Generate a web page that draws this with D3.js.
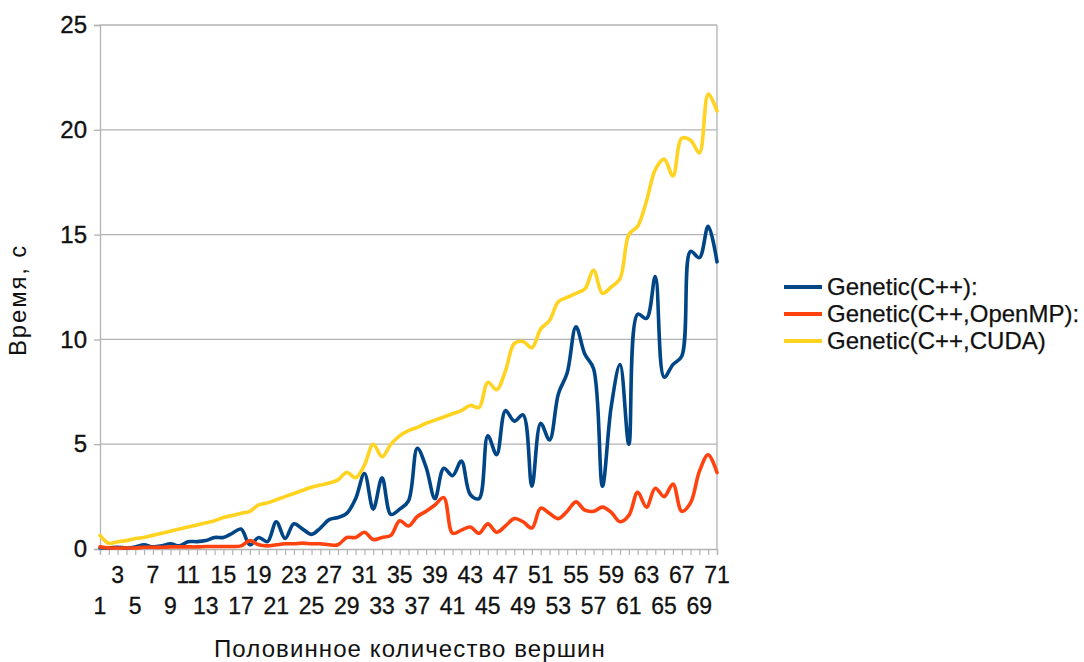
<!DOCTYPE html>
<html>
<head>
<meta charset="utf-8">
<script src="https://cdn.jsdelivr.net/npm/d3@7"></script>
<style>
  html, body { margin: 0; padding: 0; background: #fff; }
  svg { display: block; font-family: "Liberation Sans", Arial, sans-serif; }
</style>
</head>
<body>
<svg id="chart" width="1084" height="662"></svg>
<script>
// Half the number of vertices: 1..71
const categories = d3.range(1, 72);

// Run time in seconds, one value per category
const genericCpp = [
  0.05, 0.05, 0.08, 0.05, 0.1, 0.2, 0.1, 0.15, 0.25, 0.15,
  0.35, 0.35, 0.4, 0.55, 0.55, 0.75, 0.95, 0.2, 0.55, 0.35,
  1.3, 0.5, 1.2, 0.95, 0.7, 1.0, 1.4, 1.5, 1.7, 2.4,
  3.6, 1.9, 3.4, 1.65, 1.9, 2.3, 4.8, 3.9, 2.4, 3.85,
  3.5, 4.2, 2.6, 2.4, 5.4, 4.5, 6.6, 6.1, 6.4, 3.0,
  6.0, 5.2, 7.4, 8.4, 10.6, 9.3, 8.6, 3.0, 6.8, 8.8,
  5.0, 11.2, 11.0, 13.0, 8.2, 8.8, 9.2, 14.2, 13.9, 15.4,
  13.7
];
const genericOpenMP = [
  0.1, 0.05, 0.05, 0.05, 0.05, 0.08, 0.08, 0.08, 0.1, 0.1,
  0.1, 0.1, 0.12, 0.12, 0.12, 0.12, 0.15, 0.4, 0.2, 0.15,
  0.2, 0.25, 0.25, 0.28, 0.25, 0.25, 0.2, 0.2, 0.55, 0.55,
  0.8, 0.45, 0.55, 0.65, 1.35, 1.1, 1.55, 1.8, 2.1, 2.45,
  0.75, 0.9, 1.05, 0.75, 1.2, 0.8, 1.1, 1.45, 1.3, 1.0,
  1.95, 1.7, 1.45, 1.8, 2.25, 1.85, 1.8, 2.0, 1.75, 1.3,
  1.6, 2.7, 2.0, 2.9, 2.5, 3.1, 1.8, 2.2, 3.7, 4.5,
  3.65
];
const genericCuda = [
  0.65, 0.27, 0.35, 0.4, 0.5, 0.55, 0.65, 0.75, 0.85, 0.95,
  1.05, 1.15, 1.25, 1.35, 1.5, 1.6, 1.7, 1.8, 2.1, 2.2,
  2.35, 2.5, 2.65, 2.8, 2.95, 3.05, 3.15, 3.3, 3.65, 3.4,
  4.0, 5.0, 4.4, 5.0, 5.4, 5.65, 5.8, 6.0, 6.15, 6.3,
  6.45, 6.6, 6.85, 6.75, 7.95, 7.6, 8.5, 9.8, 9.9, 9.6,
  10.5, 10.9, 11.8, 12.0, 12.2, 12.4, 13.3, 12.2, 12.5, 12.9,
  15.0, 15.4, 16.6, 18.1, 18.6, 17.8, 19.6, 19.5, 18.9, 21.7,
  20.9
];

const seriesNames = ["Genetic(C++):", "Genetic(C++,OpenMP):", "Genetic(C++,CUDA)"];
const seriesColors = ["#004586", "#ff420e", "#ffd320"];
const yTicks = [0, 5, 10, 15, 20, 25];
const xTickLabels = categories.filter(c => c % 2 === 1);

const xTitle = "Половинное количество вершин";
const yTitle = "Время, с";

const svg = d3.select("#chart");
const plot = { left: 100, right: 717, top: 25, bottom: 549 };
const gridColor = "#b3b3b3";
const textColor = "#111";

const x = d3.scalePoint().domain(categories).range([plot.left, plot.right]);
const y = d3.scaleLinear().domain([0, 25]).range([plot.bottom, plot.top]);

// Horizontal grid lines
svg.append("g")
  .selectAll("line")
  .data(yTicks.filter(t => t > 0))
  .join("line")
  .attr("x1", plot.left).attr("x2", plot.right)
  .attr("y1", d => y(d)).attr("y2", d => y(d))
  .attr("stroke", gridColor).attr("stroke-width", 1.3);

// Right border of the plot area
svg.append("line")
  .attr("x1", plot.right).attr("x2", plot.right)
  .attr("y1", plot.top).attr("y2", plot.bottom)
  .attr("stroke", gridColor).attr("stroke-width", 1.3);

// Y axis
const yAxis = svg.append("g")
  .attr("transform", `translate(${plot.left},0)`)
  .call(d3.axisLeft(y).tickValues(yTicks).tickSize(6).tickPadding(7));
yAxis.select(".domain").attr("stroke", gridColor).attr("stroke-width", 1.3);
yAxis.selectAll(".tick line").attr("stroke", gridColor).attr("stroke-width", 1.3);
yAxis.selectAll(".tick text")
  .attr("font-size", 24).attr("fill", textColor)
  .attr("stroke", textColor).attr("stroke-width", 0.35)
  .attr("font-family", "Liberation Sans, Arial, sans-serif");

// X axis: a tick per category, labels on odd values in two staggered rows
const xAxis = svg.append("g")
  .attr("transform", `translate(0,${plot.bottom})`)
  .call(d3.axisBottom(x).tickSize(6).tickFormat(""));
xAxis.select(".domain").attr("stroke", gridColor).attr("stroke-width", 1.3);
xAxis.selectAll(".tick line").attr("stroke", gridColor).attr("stroke-width", 1.2);

svg.append("g")
  .selectAll("text")
  .data(xTickLabels)
  .join("text")
  .attr("x", d => x(d))
  .attr("y", d => ((d - 1) / 2) % 2 === 1 ? plot.bottom + 34 : plot.bottom + 65)
  .attr("text-anchor", "middle")
  .attr("font-size", 23)
  .attr("fill", textColor)
  .attr("stroke", textColor).attr("stroke-width", 0.3)
  .text(d => d);

// Axis titles
svg.append("text")
  .attr("x", 410).attr("y", 657)
  .attr("text-anchor", "middle")
  .attr("font-size", 24).attr("fill", textColor)
  .attr("letter-spacing", 1.1)
  .text(xTitle);

svg.append("text")
  .attr("transform", "translate(26,300) rotate(-90)")
  .attr("text-anchor", "middle")
  .attr("font-size", 24).attr("fill", textColor)
  .attr("letter-spacing", 1.8)
  .text(yTitle);

// Series lines
const seriesData = [genericCpp, genericOpenMP, genericCuda];
const line = d3.line()
  .x((d, i) => x(categories[i]))
  .y(d => y(d))
  .curve(d3.curveCatmullRom.alpha(0.5));

svg.append("g")
  .selectAll("path")
  .data(seriesData)
  .join("path")
  .attr("d", d => line(d))
  .attr("fill", "none")
  .attr("stroke", (d, i) => seriesColors[i])
  .attr("stroke-width", 3.6)
  .attr("stroke-linejoin", "round")
  .attr("stroke-linecap", "round");

// Legend
const legend = svg.append("g");
const rows = legend.selectAll("g")
  .data(seriesNames)
  .join("g")
  .attr("transform", (d, i) => `translate(784,${287 + i * 27})`);
rows.append("line")
  .attr("x1", 0).attr("x2", 38)
  .attr("y1", 0).attr("y2", 0)
  .attr("stroke", (d, i) => seriesColors[i])
  .attr("stroke-width", 4);
rows.append("text")
  .attr("x", 43).attr("y", 8)
  .attr("font-size", 24).attr("fill", textColor)
  .attr("stroke", textColor).attr("stroke-width", 0.25)
  .text(d => d);
</script>
</body>
</html>
